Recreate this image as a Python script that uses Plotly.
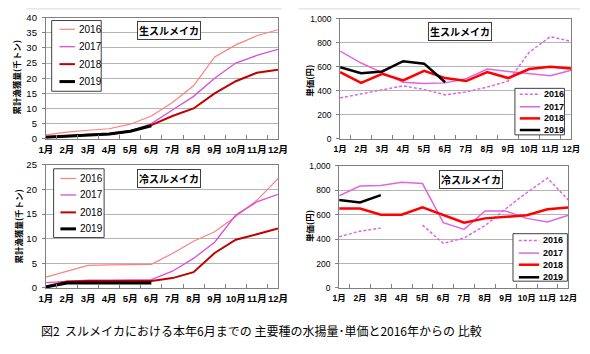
import plotly.graph_objects as go

W, H = 590, 354

months = ["1月", "2月", "3月", "4月", "5月", "6月", "7月", "8月", "9月", "10月", "11月", "12月"]
years = ["2016", "2017", "2018", "2019"]

# 生スルメイカ 累計漁獲量（千トン）
raw_cum_2016 = [1.3, 2.2, 2.8, 3.3, 4.8, 7.5, 12.0, 17.5, 27.0, 31.0, 34.0, 36.0]
raw_cum_2017 = [0.8, 1.0, 1.2, 1.4, 2.5, 5.0, 9.5, 14.0, 20.0, 25.0, 27.5, 29.5]
raw_cum_2018 = [0.5, 1.0, 1.3, 1.6, 2.5, 4.5, 7.5, 10.0, 15.0, 19.0, 21.8, 22.8]
raw_cum_2019 = [0.5, 0.9, 1.3, 1.6, 2.5, 4.3, None, None, None, None, None, None]

# 生スルメイカ 単価（円）
raw_price_2016 = [340, 375, 410, 440, 410, 365, 390, 430, 480, 720, 850, 810]
raw_price_2017 = [730, 630, 550, 470, 460, 465, 500, 580, 560, 540, 525, 570]
raw_price_2018 = [555, 465, 540, 485, 565, 505, 480, 555, 505, 580, 600, 585]
raw_price_2019 = [595, 545, 560, 645, 625, 470, None, None, None, None, None, None]

# 冷スルメイカ 累計漁獲量（千トン）
frz_cum_2016 = [2.2, 3.4, 4.6, 4.7, 4.7, 4.8, 7.0, 9.5, 11.4, 14.5, 17.8, 22.2]
frz_cum_2017 = [1.1, 1.3, 1.6, 1.6, 1.6, 1.7, 3.4, 6.0, 9.3, 14.8, 17.5, 19.0]
frz_cum_2018 = [0.3, 1.3, 1.4, 1.4, 1.4, 1.4, 2.0, 3.2, 7.1, 9.8, 10.9, 12.1]
frz_cum_2019 = [0.2, 1.0, 1.0, 1.0, 1.0, 1.0, None, None, None, None, None, None]

# 冷スルメイカ 単価（円）
frz_price_2016 = [420, 465, 490, None, 515, 365, 410, 510, 650, 780, 900, 720]
frz_price_2017 = [755, 835, 840, 865, 855, 535, 480, 630, 630, 570, 540, 595]
frz_price_2018 = [650, 650, 600, 600, 660, 595, 535, 570, 585, 595, 645, 660]
frz_price_2019 = [720, 700, 760, None, None, None, None, None, None, None, None, None]

caption = "図2  スルメイカにおける本年6月までの 主要種の水揚量･単価と2016年からの 比較"

FONT = "Liberation Sans, Arial, Noto Sans CJK JP, sans-serif"
JFONT = "Noto Sans CJK JP, sans-serif"

cum_styles = [
    dict(color="#FF8080", width=1.2),
    dict(color="#D94FD9", width=1.3),
    dict(color="#C00000", width=2.0),
    dict(color="#000000", width=3.0),
]
price_styles = [
    dict(color="#E066E0", width=1.5, dash="3px,2px"),
    dict(color="#E066E0", width=1.5),
    dict(color="#FF0000", width=2.5),
    dict(color="#000000", width=2.5),
]

def px(x):
    return x / W

def py(y):
    return 1 - y / H

fig = go.Figure()

panels = [
    dict(series=[raw_cum_2016, raw_cum_2017, raw_cum_2018, raw_cum_2019], styles=cum_styles,
         xr=(40, 279), yr=(12, 137), yrange=[0, 40], dtick=5, title="生スルメイカ", tc=(167, 25),
         ytitle="累計漁獲量(千トン)", ytc=(9, 74), leg=dict(box=(46, 97, 15, 88), ys=[24, 42, 60, 78], lx=(54, 70), tx=72, bold=False),
         fs=9.5, fmt=""),
    dict(series=[raw_price_2016, raw_price_2017, raw_price_2018, raw_price_2019], styles=price_styles,
         xr=(343, 581), yr=(13, 137), yrange=[0, 1000], dtick=200, title="生スルメイカ", tc=(466, 26.5),
         ytitle="単価(円)", ytc=(311, 77), leg=dict(box=(523, 574, 85, 133), ys=[91, 104, 116, 128], lx=(528, 549), tx=551, bold=True),
         fs=8.5, fmt=","),
    dict(series=[frz_cum_2016, frz_cum_2017, frz_cum_2018, frz_cum_2019], styles=cum_styles,
         xr=(40, 279), yr=(164, 291), yrange=[0, 25], dtick=5, title="冷スルメイカ", tc=(167, 178.5),
         ytitle="累計漁獲量(千トン)", ytc=(11, 228), leg=dict(box=(48, 100, 168, 239), ys=[178, 195, 213, 230], lx=(55, 71), tx=73, bold=False),
         fs=9.5, fmt=""),
    dict(series=[frz_price_2016, frz_price_2017, frz_price_2018, frz_price_2019], styles=price_styles,
         xr=(342, 578), yr=(165, 291), yrange=[0, 1000], dtick=200, title="冷スルメイカ", tc=(477.5, 179.5),
         ytitle="単価(円)", ytc=(311, 227), leg=dict(box=(521, 577, 235, 284), ys=[242, 255, 267, 280], lx=(527, 548), tx=550, bold=True),
         fs=8.5, fmt=","),
]

shapes = []
annotations = []

for i, p in enumerate(panels):
    n = "" if i == 0 else str(i + 1)
    xa, ya = "x" + n, "y" + n
    for yr_name, vals, st in zip(years, p["series"], p["styles"]):
        fig.add_trace(go.Scatter(x=months, y=vals, mode="lines", name=yr_name,
                                 line=st, connectgaps=False, showlegend=False,
                                 xaxis=xa, yaxis=ya))
    fig.layout["xaxis" + n] = dict(
        domain=[px(p["xr"][0]), px(p["xr"][1])], anchor=ya, type="category",
        categoryorder="array", categoryarray=months,
        showline=True, linecolor="#808080", linewidth=1, mirror=True,
        showgrid=False, ticks="inside", tickson="boundaries", ticklen=4, tickcolor="#808080",
        tickfont=dict(family=FONT, size=p["fs"], color="#000", weight="bold"),
        tickangle=0, ticklabelstandoff=2, fixedrange=True,
    )
    fig.layout["yaxis" + n] = dict(
        domain=[py(p["yr"][1]), py(p["yr"][0])], anchor=xa, range=p["yrange"], dtick=p["dtick"],
        tickformat=p["fmt"], showline=True, linecolor="#808080", linewidth=1, mirror=True,
        showgrid=True, gridcolor="#B4B4B4", gridwidth=1, zeroline=False,
        ticks="outside", ticklen=3, tickcolor="#808080",
        tickfont=dict(family=FONT, size=p["fs"], color="#000"),
        ticklabelstandoff=3, fixedrange=True,
    )
    annotations.append(dict(text="<b>" + p["title"] + "</b>", x=px(p["tc"][0]), y=py(p["tc"][1]),
                            xref="paper", yref="paper", showarrow=False, xanchor="center", yanchor="middle",
                            font=dict(family=JFONT, size=10, color="#000"),
                            bgcolor="#FFFFFF", bordercolor="#404040", borderwidth=1, borderpad=1))
    annotations.append(dict(text="<b>" + p["ytitle"] + "</b>", x=px(p["ytc"][0]), y=py(p["ytc"][1]),
                            xref="paper", yref="paper", showarrow=False, textangle=-90,
                            xanchor="center", yanchor="middle",
                            font=dict(family=JFONT, size=8.5, color="#000")))
    lg = p["leg"]
    x0, x1, y0, y1 = lg["box"]
    shapes.append(dict(type="rect", xref="paper", yref="paper", x0=px(x0), x1=px(x1), y0=py(y1), y1=py(y0),
                       line=dict(color="#404040", width=1), fillcolor="#FFFFFF", layer="above"))
    for yr_name, yy, st in zip(years, lg["ys"], p["styles"]):
        shapes.append(dict(type="line", xref="paper", yref="paper", x0=px(lg["lx"][0]), x1=px(lg["lx"][1]),
                           y0=py(yy), y1=py(yy), line=st, layer="above"))
        txt = "<b>" + yr_name + "</b>" if lg["bold"] else yr_name
        annotations.append(dict(text=txt, x=px(lg["tx"]), y=py(yy), xref="paper", yref="paper",
                                showarrow=False, xanchor="left", yanchor="middle",
                                font=dict(family=FONT, size=p["fs"] + 0.5, color="#000")))

shapes.append(dict(type="line", xref="paper", yref="paper", x0=px(20), x1=px(283), y0=py(3), y1=py(3),
                   line=dict(color="#D9D9D9", width=1)))
shapes.append(dict(type="line", xref="paper", yref="paper", x0=px(300), x1=px(590), y0=py(3), y1=py(3),
                   line=dict(color="#D9D9D9", width=1)))

annotations.append(dict(text=caption, x=px(262), y=py(335), xref="paper", yref="paper", showarrow=False,
                        xanchor="center", yanchor="middle", font=dict(family=JFONT, size=12, color="#000")))

fig.update_layout(width=W, height=H, margin=dict(l=0, r=0, t=0, b=0),
                  paper_bgcolor="#FFFFFF", plot_bgcolor="#FFFFFF",
                  shapes=shapes, annotations=annotations, showlegend=False)

fig.write_html("out.html", config={"displayModeBar": False})
